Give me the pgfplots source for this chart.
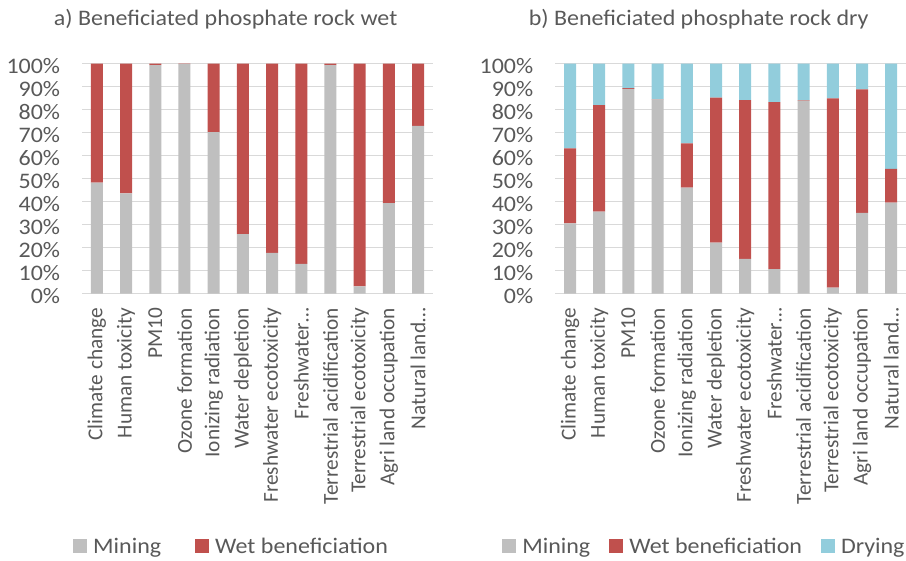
\documentclass[border=0pt]{standalone}
\usepackage{pgfplots}
\pgfplotsset{compat=1.18}
\usepackage{fontspec}
\setmainfont{Carlito}[FakeStretch=1.08]
\newfontfamily\uprightlabels{Carlito}

\definecolor{textgray}{HTML}{595959}
\definecolor{gridgray}{HTML}{D9D9D9}
\definecolor{mining}{HTML}{BFBFBF}
\definecolor{wet}{HTML}{C0504D}
\definecolor{drying}{HTML}{92CDDC}

\newcommand{\chartfont}{\fontsize{22.2}{26}\selectfont}
\newcommand{\labelfont}{\fontsize{21.3}{25}\selectfont}

% shares of each impact category (percent)
\pgfplotstableread{
x  mining wet
0  48.3   51.7
1  43.6   56.4
2  99.4   0.6
3  99.8   0.2
4  70.3   29.7
5  25.9   74.1
6  17.8   82.2
7  13.0   87.0
8  99.4   0.6
9  3.2    96.8
10 39.4   60.6
11 73.0   27.0
}\wettable

\pgfplotstableread{
x  mining wet  drying
0  30.6   32.6 36.8
1  35.7   46.3 18.0
2  89.0   0.4  10.6
3  84.5   0.1  15.4
4  46.1   19.3 34.6
5  22.2   63.0 14.8
6  15.1   69.1 15.8
7  10.7   72.6 16.7
8  83.9   0.3  15.8
9  2.6    82.3 15.1
10 35.1   53.7 11.2
11 39.6   14.7 45.7
}\drytable

\pgfplotsset{
  panel/.style={
    scale only axis,
    width=350.4pt, height=230pt,
    xmin=-0.5, xmax=11.5, ymin=0, ymax=100,
    enlarge x limits=false, enlarge y limits=false,
    axis line style={draw=none},
    major tick length=0pt,
    tick style={draw=none},
    ymajorgrids,
    major grid style={draw=gridgray, line width=1.3pt},
    ytick={0,10,...,100},
    yticklabels={0\%,10\%,20\%,30\%,40\%,50\%,60\%,70\%,80\%,90\%,100\%},
    xtick={0,...,11},
    xticklabels={Climate change,Human toxicity,PM10,Ozone formation,Ionizing radiation,Water depletion,Freshwater ecotoxicity,Freshwater…,Terrestrial acidification,Terrestrial ecotoxicity,Agri land occupation,Natural land…},
    tick label style={inner sep=0pt, text=textgray},
    yticklabel style={font=\chartfont, yshift=-2pt},
    yticklabel shift=22pt,
    xticklabel style={rotate=90, anchor=east, font=\uprightlabels\labelfont},
    xticklabel shift=14pt,
    title style={font=\chartfont, text=textgray, anchor=base, at={(axis description cs:0.409,1.14)}, inner sep=0pt},
    legend style={draw=none, fill=none, inner sep=0pt, font=\chartfont, text=textgray,
      nodes={inner sep=0pt},
      /tikz/every odd column/.append style={column sep=6pt}},
    legend columns=-1,
    legend cell align=left,
    legend image code/.code={\fill[##1] (0pt,-6pt) rectangle (14pt,8pt);},
  }
}

\begin{document}
\begin{tikzpicture}
\useasboundingbox (-82.3pt,-267.3pt) rectangle (823.7pt,293.7pt);

\begin{axis}[panel, ybar stacked, bar width=12pt,
  legend image code/.code={\fill[#1] (0pt,-6pt) rectangle (14pt,8pt);},
  at={(0pt,0pt)}, anchor=south west,
  title={a) Beneficiated phosphate rock wet},
  legend style={at={(axis description cs:-0.0265,-1.101)}, anchor=west,
    /tikz/every even column/.append style={column sep=34pt}}]
\addplot[fill=mining, draw=none] table[x=x, y=mining] {\wettable};
\addplot[fill=wet, draw=none] table[x=x, y=wet] {\wettable};
\legend{Mining, Wet beneficiation}
\end{axis}

\begin{axis}[panel, ybar stacked, bar width=12pt,
  legend image code/.code={\fill[#1] (0pt,-6pt) rectangle (14pt,8pt);},
  at={(473.1pt,0pt)}, anchor=south west,
  title={b) Beneficiated phosphate rock dry},
  legend style={at={(axis description cs:-0.152,-1.101)}, anchor=west,
    /tikz/every even column/.append style={column sep=19pt}}]
\addplot[fill=mining, draw=none] table[x=x, y=mining] {\drytable};
\addplot[fill=wet, draw=none] table[x=x, y=wet] {\drytable};
\addplot[fill=drying, draw=none] table[x=x, y=drying] {\drytable};
\legend{Mining, Wet beneficiation, Drying}
\end{axis}
\end{tikzpicture}
\end{document}
